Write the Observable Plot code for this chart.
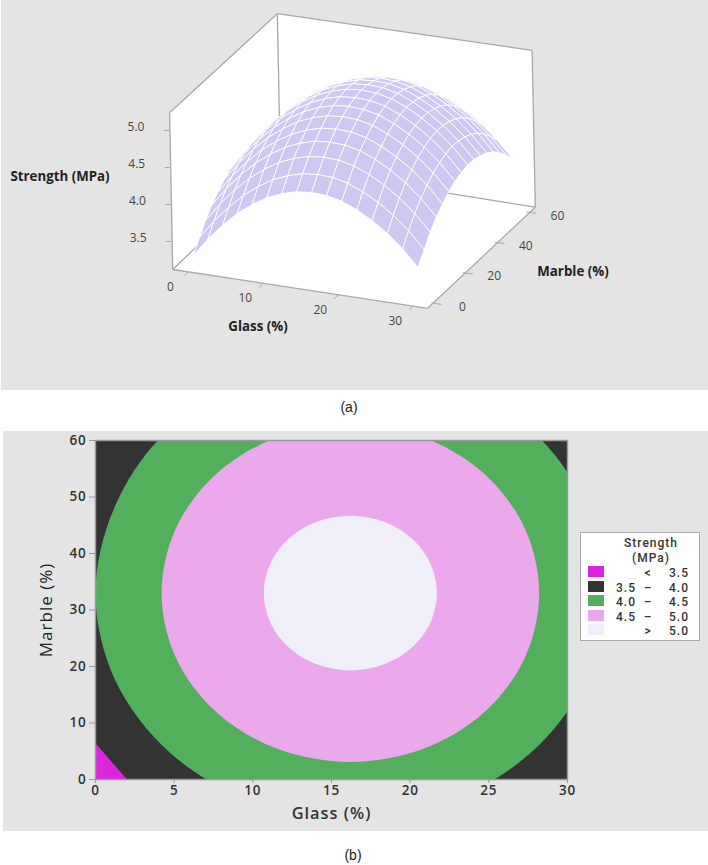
<!DOCTYPE html>
<html>
<head>
<meta charset="utf-8">
<script src="https://cdn.jsdelivr.net/npm/d3@7"></script>
<script src="https://cdn.jsdelivr.net/npm/@observablehq/plot@0.6"></script>
<style>
  html, body { margin: 0; padding: 0; background: #fff; }
  #page { position: relative; width: 708px; height: 865px; overflow: hidden; font-family: "Open Sans", sans-serif; }
  .panel { position: absolute; left: 1px; width: 707px; background: #e4e4e4; }
  #panelA { top: 0; height: 390px; }
  #panelB { top: 431px; height: 400px; left: 3px; width: 705px; }
  #plotA { position: absolute; left: 0; top: 0; }
  #plotB { position: absolute; left: 0; top: 431px; }
  svg { display: block; background: transparent !important; }
  #plotB g[aria-label$="tick label"] text { letter-spacing: .8px; }
  #plotB g[aria-label="text"] text { letter-spacing: 1px; }
  .cap { position: absolute; font: 14px "Liberation Sans", sans-serif; color: #222; transform: translateX(-50%); }
  .t3 { position: absolute; font: 700 13.3px "Open Sans", sans-serif; color: #222; transform: translate(-50%, -50%); white-space: nowrap; }
  #legend { position: absolute; left: 580px; top: 532px; width: 118px; height: 107px; background: #fff; border: 1px solid #a9a9a9; font: 500 12px Roboto, sans-serif; color: #333; letter-spacing: 1px; }
  #legend .title { position: absolute; left: 35px; width: 70px; text-align: center; top: 3px; line-height: 14.5px; }
  #legend .row { position: absolute; left: 0; width: 118px; height: 14px; line-height: 14px; }
  #legend .sw { position: absolute; left: 7px; top: 0; width: 16px; height: 11px; }
  #legend .lo { position: absolute; right: 63px; }
  #legend .op { position: absolute; left: 61px; width: 12px; text-align: center; }
  #legend .hi { position: absolute; right: 10px; }
</style>
</head>
<body>
<div id="page">
  <div class="panel" id="panelA"></div>
  <div class="panel" id="panelB"></div>
  <div id="plotA"></div>
  <div id="plotB"></div>
  <div class="t3" style="left:60px;top:176px">Strength (MPa)</div>
  <div class="t3" style="left:258px;top:326px">Glass (%)</div>
  <div class="t3" style="left:573px;top:271px">Marble (%)</div>
  <div class="cap" style="left:349px;top:399px">(a)</div>
  <div class="cap" style="left:353px;top:847px">(b)</div>
  <div id="legend"></div>
</div>
<script>
// ---------- Panel (a): values ----------
const glassNodes  = [0,2,4,6,8,10,12,14,16,18,20,22,24,26,28,30];
const marbleNodes = [0,4,8,12,16,20,24,28,32,36,40,44,48,52,56,60];
const peakStrength = 5.13;
const glassDrop  = [1.16,0.89,0.66,0.46,0.30,0.17,0.08,0.02,0.00,0.01,0.06,0.15,0.27,0.42,0.61,0.84];
const marbleDrop = [0.77,0.60,0.44,0.31,0.21,0.12,0.06,0.02,0.00,0.01,0.04,0.09,0.16,0.26,0.38,0.52];

const glassTicks3d  = [0,10,20,30];
const marbleTicks3d = [0,20,40,60];
const strengthTicks = [3.5,4.0,4.5,5.0];

// box corners, in data units [glass, marble, strength]
const boxGlass  = [-2.08, 31.9];
const boxMarble = [-3.4, 64.6];
const floorCorners = [[-2.08,-3.4,3.04],[31.9,-3.4,3.04],[31.9,64.6,3.01],[-2.08,64.6,3.04]];
const leftWallCorners = [[-2.08,-3.4,3.04],[-2.08,-3.4,5.28],[-2.08,64.6,5.22],[-2.08,64.6,3.04]];
const backWallCorners = [[-2.08,64.6,3.04],[-2.08,64.6,5.22],[31.9,64.6,5.25],[31.9,64.6,3.01]];

// ---------- Panel (b): contour boundaries, [glass, marble] ----------
const belowBand = [[0,0],[0,6.4],[2,0]];
const band40 = [[32.4,33],[31.17,48.3],[27.9,61.3],[22.4,69.96],[16.2,73],[10,69.96],[4.45,61.3],[1.23,48.3],[0,33],[1.23,17.7],[4.75,4.7],[10,-3.96],[16.2,-7],[22.4,-3.96],[27.65,4.7],[31.17,17.7]];
const band45 = [[28.2,33],[27.29,44.44],[24.69,54.14],[20.79,60.62],[16.2,62.9],[11.61,60.62],[7.71,54.14],[5.11,44.44],[4.2,33],[5.11,21.56],[7.71,11.86],[11.61,5.38],[16.2,3.1],[20.79,5.38],[24.69,11.86],[27.29,21.56]];
const band50 = [[21.7,33],[21.28,38.24],[20.09,42.69],[18.3,45.66],[16.2,46.7],[14.1,45.66],[12.31,42.69],[11.12,38.24],[10.7,33],[11.12,27.76],[12.31,23.31],[14.1,20.34],[16.2,19.3],[18.3,20.34],[20.09,23.31],[21.28,27.76]];

const legendLow    = ["", "3.5", "4.0", "4.5", ""];
const legendOp     = ["<", "–", "–", "–", ">"];
const legendHigh   = ["3.5", "4.0", "4.5", "5.0", "5.0"];
const legendColors = ["#dd25dd", "#333333", "#52b05c", "#eca8ec", "#f0eef9"];

// ---------- Oblique view used by panel (a) ----------
const projX = (g, m, z) => 193 + 7.5 * g + 1.583 * m - 1.4 * (z - 3.2);
const projY = (g, m, z) => 255 + 1.143 * g - 1.518 * m - 70 * (z - 3.2);
const vertex = ([g, m, z]) => ({px: projX(g, m, z), py: projY(g, m, z)});
const wallStrength = d3.scaleLinear([3.5, 5], [3.44, 5.025]);

const strengthAt = (i, j) => peakStrength - glassDrop[i] - marbleDrop[j];

// Back-to-front cells of the surface
const cells = [];
let cellId = 0;
for (let j = marbleNodes.length - 2; j >= 0; --j) {
  for (let i = 0; i < glassNodes.length - 1; ++i) {
    for (const [a, b] of [[i, j], [i + 1, j], [i + 1, j + 1], [i, j + 1]]) {
      cells.push({cell: cellId, ...vertex([glassNodes[a], marbleNodes[b], strengthAt(a, b)])});
    }
    ++cellId;
  }
}

const polyline = (corners, id) => corners.map(c => ({id, ...vertex(c)}));
const walls = [
  ...polyline(floorCorners, "floor"),
  ...polyline(leftWallCorners, "left"),
  ...polyline(backWallCorners, "back")
];

const [gA, gB] = boxGlass, [mA, mB] = boxMarble;
const edges = [
  [floorCorners[0], floorCorners[1]], [floorCorners[1], floorCorners[2]],
  [floorCorners[2], floorCorners[3]], [floorCorners[3], floorCorners[0]],
  [leftWallCorners[0], leftWallCorners[1]], [leftWallCorners[1], leftWallCorners[2]],
  [leftWallCorners[2], leftWallCorners[3]], [backWallCorners[1], backWallCorners[2]],
  [backWallCorners[2], backWallCorners[3]]
].map(([a, b]) => {
  const p = vertex(a), q = vertex(b);
  return {x1: p.px, y1: p.py, x2: q.px, y2: q.py};
});

const glassTickRows = glassTicks3d.map(g => {
  const p = vertex([g, mA, 3.04]), q = vertex([g, mA - 2.6, 3.04]);
  return {x1: p.px, y1: p.py, x2: q.px, y2: q.py, lx: p.px - 18, ly: p.py + 15, label: String(g)};
});
const marbleTickRows = marbleTicks3d.map(m => {
  const p = vertex([gB - 0.2, m, 3.04]), q = vertex([gB + 1.1, m, 3.04]);
  return {x1: p.px, y1: p.py, x2: q.px, y2: q.py, lx: p.px + 31, ly: p.py + 4, label: String(m)};
});
const strengthTickRows = strengthTicks.map(z => {
  const p = vertex([gA, mA, wallStrength(z)]);
  return {x1: p.px - 1, y1: p.py, x2: p.px - 6, y2: p.py, lx: p.px - 34, ly: p.py - 3.5, label: z.toFixed(1)};
});
const tickRows = [...glassTickRows, ...marbleTickRows, ...strengthTickRows];

const plotA = Plot.plot({
  width: 708, height: 390,
  margin: 0,
  x: {domain: [0, 708], range: [0, 708], axis: null},
  y: {domain: [390, 0], range: [390, 0], axis: null},
  marks: [
    Plot.line(walls, {x: "px", y: "py", z: "id", fill: "#fff", stroke: "none", curve: "linear-closed"}),
    Plot.link(edges, {x1: "x1", y1: "y1", x2: "x2", y2: "y2", stroke: "#a8a8a8", strokeWidth: 1.3}),
    Plot.link(tickRows, {x1: "x1", y1: "y1", x2: "x2", y2: "y2", stroke: "#a8a8a8", strokeWidth: 1}),
    Plot.line(cells, {x: "px", y: "py", z: "cell", fill: "#cfc8f3", stroke: "#fff", strokeWidth: 0.9, curve: "linear-closed"}),
    Plot.text(tickRows, {x: "lx", y: "ly", text: "label", fontSize: 12, fill: "#444", fontFamily: "Open Sans"})
  ]
});
document.getElementById("plotA").append(plotA);

// ---------- Panel (b) ----------
const blob = (pts, fill, curve) => Plot.line(pts, {
  x: d => d[0], y: d => d[1], fill, stroke: "none", curve, clip: true
});
const plotB = Plot.plot({
  width: 708, height: 400,
  marginLeft: 95, marginRight: 141, marginTop: 9, marginBottom: 52,
  x: {domain: [0, 30], ticks: [0,5,10,15,20,25,30], axis: null},
  y: {domain: [0, 60], ticks: [0,10,20,30,40,50,60], axis: null},
  marks: [
    Plot.frame({fill: "#333333", stroke: "none"}),
    blob(belowBand, "#dd25dd", "linear-closed"),
    blob(band40, "#52b05c", "catmull-rom-closed"),
    blob(band45, "#eca8ec", "catmull-rom-closed"),
    blob(band50, "#f0eef9", "catmull-rom-closed"),
    Plot.frame({stroke: "#9a9a9a", strokeWidth: 1.5}),
    Plot.axisX({ticks: [0,5,10,15,20,25,30], label: null, tickSize: 4, tickPadding: 2, stroke: "#9a9a9a",
      fontFamily: "Open Sans", fontWeight: 600, fontSize: 13.5, fill: "#333"}),
    Plot.axisY({ticks: [0,10,20,30,40,50,60], label: null, tickSize: 6, tickPadding: 3, stroke: "#9a9a9a",
      fontFamily: "Open Sans", fontWeight: 600, fontSize: 13.5, fill: "#333"}),
    Plot.text(["Glass (%)"], {frameAnchor: "bottom", lineAnchor: "middle", dy: 34, fontFamily: "Open Sans", fontWeight: 600, fontSize: 16.4, fill: "#333"}),
    Plot.text(["Marble (%)"], {frameAnchor: "left", textAnchor: "middle", rotate: -90, dx: -49, fontFamily: "Open Sans", fontWeight: 500, fontSize: 17, fill: "#222"})
  ]
});
document.getElementById("plotB").append(plotB);

// ---------- Legend ----------
const legend = document.getElementById("legend");
legend.innerHTML = `<div class="title">Strength<br>(MPa)</div>` + legendColors.map((c, i) =>
  `<div class="row" style="top:${33 + i * 14.5}px"><span class="sw" style="background:${c}"></span>` +
  `<span class="lo">${legendLow[i]}</span><span class="op">${legendOp[i]}</span><span class="hi">${legendHigh[i]}</span></div>`
).join("");
</script>
</body>
</html>
